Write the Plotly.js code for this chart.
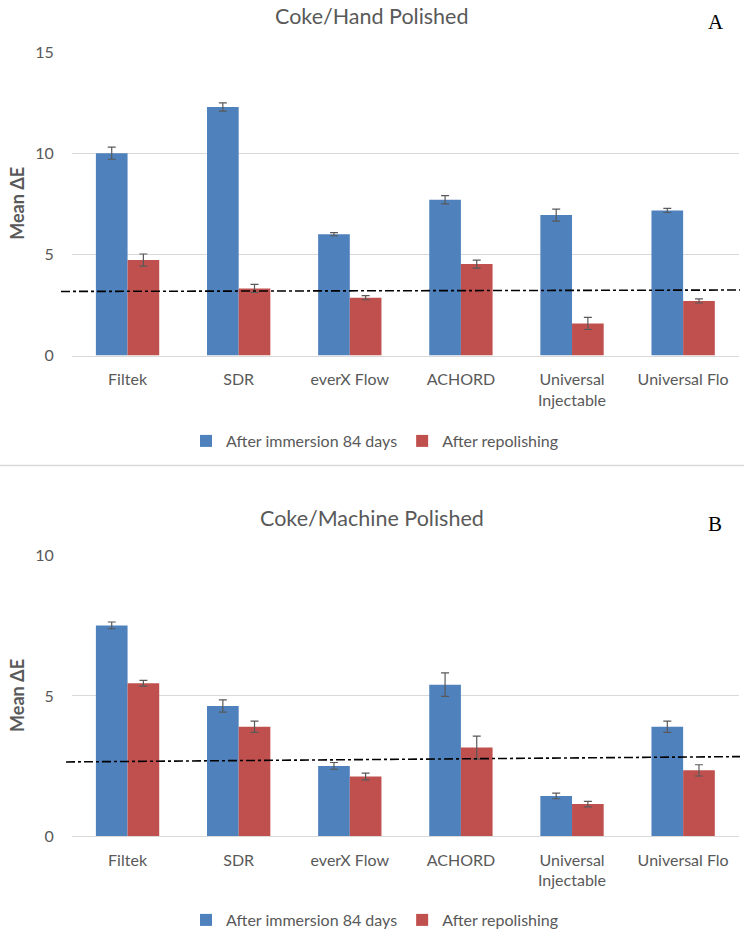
<!DOCTYPE html>
<html>
<head>
<meta charset="utf-8">
<script src="https://cdn.plot.ly/plotly-3.0.1.min.js"></script>
<style>html,body{margin:0;padding:0;background:#fff;}#chart{width:744px;height:937px;}</style>
</head>
<body>
<div id="chart"></div>
<script>
// ---- data ----
const categories = ["Filtek", "SDR", "everX Flow", "ACHORD", "Universal<br>Injectable", "Universal Flo"];
const seriesNames = ["After immersion 84 days", "After repolishing"];

// Panel A: Coke/Hand Polished
const handImmersion = [10.0, 12.28, 6.0, 7.70, 6.94, 7.17];
const handImmersionErr = [0.3, 0.2, 0.08, 0.2, 0.3, 0.1];
const handRepolish = [4.72, 3.32, 2.86, 4.52, 1.59, 2.70];
const handRepolishErr = [0.3, 0.2, 0.1, 0.2, 0.3, 0.1];
const handThreshold = [3.17, 3.24];

// Panel B: Coke/Machine Polished
const machImmersion = [7.51, 4.64, 2.51, 5.40, 1.44, 3.90];
const machImmersionErr = [0.12, 0.22, 0.12, 0.42, 0.1, 0.2];
const machRepolish = [5.45, 3.90, 2.13, 3.16, 1.15, 2.35];
const machRepolishErr = [0.1, 0.2, 0.12, 0.41, 0.1, 0.2];
const machThreshold = [2.65, 2.84];

const yTicksA = [0, 5, 10, 15];
const yTicksB = [0, 5, 10];

// ---- styling ----
const blue = "#4f81bd", red = "#c0504d";
const grey = "#595959", gridc = "#d9d9d9";
const FAM = "Lato, Open Sans, sans-serif";
const baseFont = {family: FAM, size: 16, color: grey};
const H = 937, W = 744;
const py = v => 1 - v / H;

function barTrace(y, err, name, color, xa, ya, lg) {
  return {
    type: "bar", x: categories, y: y, name: name, xaxis: xa, yaxis: ya, legend: lg,
    marker: {color: color},
    error_y: {type: "data", array: err, visible: true, color: "#595959", thickness: 1.2, width: 4}
  };
}

const data = [
  barTrace(handImmersion, handImmersionErr, seriesNames[0], blue, "x", "y", "legend"),
  barTrace(handRepolish, handRepolishErr, seriesNames[1], red, "x", "y", "legend"),
  barTrace(machImmersion, machImmersionErr, seriesNames[0], blue, "x2", "y2", "legend2"),
  barTrace(machRepolish, machRepolishErr, seriesNames[1], red, "x2", "y2", "legend2")
];

const xd = [72 / W, 738.7 / W];
function xaxisDef(anchor) {
  return {
    domain: xd, anchor: anchor, type: "category",
    showgrid: false, showline: true, linecolor: gridc, linewidth: 1,
    ticks: "outside", ticklen: 9, tickcolor: "rgba(0,0,0,0)",
    tickfont: baseFont, fixedrange: true
  };
}
function yaxisDef(anchor, dom, range, ticks) {
  return {
    domain: dom, anchor: anchor, range: range, tickvals: ticks,
    showgrid: true, gridcolor: gridc, gridwidth: 1, zeroline: false, showline: false,
    ticks: "outside", ticklen: 14, tickcolor: "rgba(0,0,0,0)",
    tickfont: baseFont, fixedrange: true
  };
}
function legendDef(yc) {
  return {orientation: "h", x: 375 / W, xanchor: "center", y: py(yc), yanchor: "middle",
    font: baseFont, bgcolor: "rgba(0,0,0,0)", itemwidth: 30, tracegroupgap: 0};
}

const layout = {
  width: W, height: H,
  margin: {l: 0, r: 0, t: 0, b: 0},
  paper_bgcolor: "#fff", plot_bgcolor: "#fff",
  font: baseFont,
  barmode: "group", bargap: 0.43, bargroupgap: 0,
  xaxis: xaxisDef("y"),
  yaxis: yaxisDef("x", [py(356), py(52)], [0, 15], yTicksA),
  xaxis2: xaxisDef("y2"),
  yaxis2: yaxisDef("x2", [py(837.3), py(556)], [0, 10], yTicksB),
  legend: legendDef(441),
  legend2: legendDef(921),
  shapes: [
    {type: "line", xref: "paper", yref: "y", x0: 61 / W, x1: 740 / W,
      y0: handThreshold[0], y1: handThreshold[1],
      line: {color: "#000", width: 1.6, dash: "dashdot"}, layer: "above"},
    {type: "line", xref: "paper", yref: "y2", x0: 66 / W, x1: 740 / W,
      y0: machThreshold[0], y1: machThreshold[1],
      line: {color: "#000", width: 1.6, dash: "dashdot"}, layer: "above"},
    {type: "line", xref: "paper", yref: "paper", x0: 0, x1: 1, y0: py(466), y1: py(466),
      line: {color: gridc, width: 1.5}}
  ],
  annotations: [
    {text: "Coke/Hand Polished", xref: "paper", yref: "paper", x: 372 / W, y: py(16),
      xanchor: "center", yanchor: "middle", showarrow: false,
      font: {family: FAM, size: 21.5, color: grey}},
    {text: "Coke/Machine Polished", xref: "paper", yref: "paper", x: 372 / W, y: py(519),
      xanchor: "center", yanchor: "middle", showarrow: false,
      font: {family: FAM, size: 21.5, color: grey}},
    {text: "A", xref: "paper", yref: "paper", x: 716 / W, y: py(22),
      xanchor: "center", yanchor: "middle", showarrow: false,
      font: {family: "Liberation Serif, serif", size: 21, color: "#000"}},
    {text: "B", xref: "paper", yref: "paper", x: 715 / W, y: py(525),
      xanchor: "center", yanchor: "middle", showarrow: false,
      font: {family: "Liberation Serif, serif", size: 21, color: "#000"}},
    {text: "<b>Mean ΔE</b>", xref: "paper", yref: "y domain", x: 17 / W, y: 0.5,
      xanchor: "center", yanchor: "middle", textangle: -90, showarrow: false,
      font: {family: FAM, size: 18, color: grey}},
    {text: "<b>Mean ΔE</b>", xref: "paper", yref: "y2 domain", x: 17 / W, y: 0.5,
      xanchor: "center", yanchor: "middle", textangle: -90, showarrow: false,
      font: {family: FAM, size: 18, color: grey}}
  ]
};

Plotly.newPlot("chart", data, layout, {displayModeBar: false, staticPlot: true});
</script>
</body>
</html>
